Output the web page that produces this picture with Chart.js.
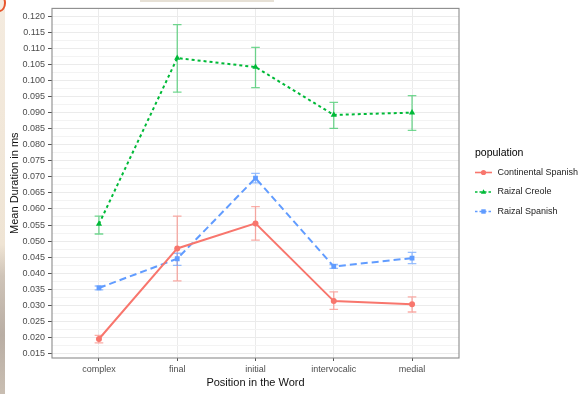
<!DOCTYPE html>
<html>
<head>
<meta charset="utf-8">
<script src="https://cdn.jsdelivr.net/npm/chart.js@4"></script>
<style>
  html, body { margin: 0; padding: 0; background: #ffffff; }
  #wrap { position: relative; width: 584px; height: 394px; overflow: hidden; }
  #strip { position: absolute; left: 0; top: 0; width: 5px; height: 394px;
           background: linear-gradient(#f4ebdf 0%, #efe4d4 62%, #cfc4b8 70%, #b9aea4 85%, #c9beb2 100%); }
  #arc { position: absolute; left: -7px; top: -6px; width: 9px; height: 14px;
         border: 2px solid #e8562c; border-radius: 50%; }
  #topbar { position: absolute; left: 140px; top: 0; width: 134px; height: 2px; background: #e6e0d5; }
  canvas { position: absolute; left: 0; top: 0; }
</style>
</head>
<body>
<div id="wrap">
  <div id="strip"></div>
  <div id="arc"></div>
  <div id="topbar"></div>
  <canvas id="c" width="584" height="394"></canvas>
</div>
<script>
// Word positions on the x axis
const categories = ['complex', 'final', 'initial', 'intervocalic', 'medial'];
const populations = ['Continental Spanish', 'Raizal Creole', 'Raizal Spanish'];

// Mean duration (ms) with lower / upper error limits per population
const continentalMean = [0.0195, 0.0477, 0.0555, 0.0313, 0.0303];
const continentalLow  = [0.0183, 0.0376, 0.0503, 0.0287, 0.0279];
const continentalHigh = [0.0206, 0.0578, 0.0607, 0.0342, 0.0326];

const creoleMean = [0.0553, 0.1070, 0.1042, 0.0893, 0.0900];
const creoleLow  = [0.0522, 0.0964, 0.0978, 0.0851, 0.0845];
const creoleHigh = [0.0578, 0.1174, 0.1103, 0.0932, 0.0953];

const raizalSpanishMean = [0.0354, 0.0445, 0.0696, 0.0421, 0.0447];
const raizalSpanishLow  = [0.0348, 0.0424, 0.0681, 0.0415, 0.0430];
const raizalSpanishHigh = [0.0360, 0.0462, 0.0711, 0.0427, 0.0465];

// Labelled y ticks
const yTicks = [0.015, 0.020, 0.025, 0.030, 0.035, 0.040, 0.045, 0.050, 0.055, 0.060,
                0.065, 0.070, 0.075, 0.080, 0.085, 0.090, 0.095, 0.100, 0.105, 0.110,
                0.115, 0.120];

const FONT = 'Liberation Sans, Arial, sans-serif';
const toPoints = arr => arr.map((v, i) => ({ x: i, y: v }));

// minor grid lines halfway between labelled ticks, plus one on each side
const yGridTicks = [];
yTicks.forEach((v, i) => {
  yGridTicks.push({ value: v, major: true });
  if (i < yTicks.length - 1) yGridTicks.push({ value: (v + yTicks[i + 1]) / 2, major: false });
});
yGridTicks.push({ value: yTicks[yTicks.length - 1] + 0.0025, major: false });
yGridTicks.unshift({ value: yTicks[0] - 0.0025, major: false });
const Y_MIN = 0.01358, Y_MAX = 0.12247;
const yGridInRange = yGridTicks.filter(t => t.value >= Y_MIN && t.value <= Y_MAX);

const datasets = [
  { label: populations[0], data: toPoints(continentalMean), lo: continentalLow, hi: continentalHigh,
    borderColor: '#F8766D', backgroundColor: '#F8766D', borderWidth: 2, borderDash: [],
    pointStyle: 'circle', pointRadius: 3, pointBorderWidth: 0, errColor: 'rgba(248,118,109,0.6)' },
  { label: populations[1], data: toPoints(creoleMean), lo: creoleLow, hi: creoleHigh,
    borderColor: '#00BA38', backgroundColor: '#00BA38', borderWidth: 2, borderDash: [3, 3],
    pointStyle: 'triangle', pointRadius: 3.6, pointBorderWidth: 0, errColor: 'rgba(0,186,56,0.55)' },
  { label: populations[2], data: toPoints(raizalSpanishMean), lo: raizalSpanishLow, hi: raizalSpanishHigh,
    borderColor: '#619CFF', backgroundColor: '#619CFF', borderWidth: 2, borderDash: [7, 4],
    pointStyle: 'rect', pointRadius: 3.4, pointBorderWidth: 0, errColor: 'rgba(97,156,255,0.65)' }
];

// Error bars with caps, drawn through the chart scales
const errorBars = {
  id: 'errorBars',
  beforeDatasetsDraw(chart) {
    const { ctx, scales: { x, y } } = chart;
    ctx.save();
    chart.data.datasets.forEach(ds => {
      ctx.strokeStyle = ds.errColor;
      ctx.lineWidth = 1.3;
      ds.lo.forEach((lo, i) => {
        const px = x.getPixelForValue(i);
        const capHalf = x.getPixelForValue(0.055) - x.getPixelForValue(0);
        const yl = y.getPixelForValue(lo), yh = y.getPixelForValue(ds.hi[i]);
        ctx.beginPath();
        ctx.moveTo(px, yl); ctx.lineTo(px, yh);
        ctx.moveTo(px - capHalf, yl); ctx.lineTo(px + capHalf, yl);
        ctx.moveTo(px - capHalf, yh); ctx.lineTo(px + capHalf, yh);
        ctx.stroke();
      });
    });
    ctx.restore();
  }
};

function drawMarker(ctx, style, cx, cy, r) {
  ctx.beginPath();
  if (style === 'circle') {
    ctx.arc(cx, cy, r, 0, Math.PI * 2);
  } else if (style === 'triangle') {
    ctx.moveTo(cx, cy - r * 1.1);
    ctx.lineTo(cx + r, cy + r * 0.7);
    ctx.lineTo(cx - r, cy + r * 0.7);
    ctx.closePath();
  } else {
    ctx.rect(cx - r * 0.85, cy - r * 0.85, r * 1.7, r * 1.7);
  }
  ctx.fill();
}

// Panel border and legend on the right
const panelAndLegend = {
  id: 'panelAndLegend',
  afterDraw(chart) {
    const { ctx, chartArea: a } = chart;
    ctx.save();
    ctx.strokeStyle = '#8C8C8C';
    ctx.lineWidth = 1.1;
    ctx.strokeRect(a.left, a.top, a.right - a.left, a.bottom - a.top);

    const lx = a.right + 16;
    ctx.fillStyle = '#000';
    ctx.font = '10.5px ' + FONT;
    ctx.textBaseline = 'middle';
    ctx.textAlign = 'left';
    ctx.fillText('population', lx, 153);
    chart.data.datasets.forEach((ds, i) => {
      const ky = 172.5 + i * 19.5;
      ctx.strokeStyle = ds.borderColor;
      ctx.lineWidth = 1.6;
      ctx.setLineDash(ds.borderDash.length ? [2.5, 2] : []);
      ctx.beginPath();
      ctx.moveTo(lx, ky); ctx.lineTo(lx + 17, ky);
      ctx.stroke();
      ctx.setLineDash([]);
      ctx.fillStyle = ds.borderColor;
      drawMarker(ctx, ds.pointStyle, lx + 8.5, ky, 2.6);
      ctx.fillStyle = '#222';
      ctx.font = '9px ' + FONT;
      ctx.fillText(ds.label, lx + 22.5, ky);
    });
    ctx.restore();
  }
};

new Chart(document.getElementById('c'), {
  type: 'line',
  data: { datasets },
  plugins: [errorBars, panelAndLegend],
  options: {
    responsive: false,
    animation: false,
    layout: { padding: { left: 0, top: 6, right: 125, bottom: 0 } },
    plugins: { legend: { display: false }, tooltip: { enabled: false } },
    elements: { line: { tension: 0 } },
    scales: {
      x: {
        type: 'linear', min: -0.6, max: 4.6,
        afterBuildTicks: s => { s.ticks = categories.map((c, i) => ({ value: i })); },
        afterFit: s => { s.height = 36; },
        ticks: { callback: v => categories[v], font: { family: FONT, size: 9 }, color: '#4D4D4D',
                 padding: 3, autoSkip: false, maxRotation: 0 },
        grid: { color: '#EBEBEB', lineWidth: 1, tickColor: '#555', tickLength: 3 },
        border: { display: false },
        title: { display: true, text: 'Position in the Word', color: '#111',
                 font: { family: FONT, size: 11 }, padding: { top: 0, bottom: 4 } }
      },
      y: {
        type: 'linear', min: Y_MIN, max: Y_MAX,
        afterBuildTicks: s => { s.ticks = yGridInRange.map(t => ({ value: t.value, major: t.major })); },
        afterFit: s => { s.width = 52; },
        ticks: { callback: (v, i, ts) => (ts[i].major ? v.toFixed(3) : ''),
                 font: { family: FONT, size: 9 }, color: '#4D4D4D', padding: 3, autoSkip: false },
        grid: {
          color: c => (c.tick && c.tick.major ? '#EBEBEB' : '#F3F3F3'),
          lineWidth: 1,
          tickColor: c => (c.tick && c.tick.major ? '#555' : 'rgba(0,0,0,0)'),
          tickLength: 4
        },
        border: { display: false },
        title: { display: true, text: 'Mean Duration in ms', color: '#111',
                 font: { family: FONT, size: 11 }, padding: { top: 8, bottom: 0 } }
      }
    }
  }
});
</script>
</body>
</html>
